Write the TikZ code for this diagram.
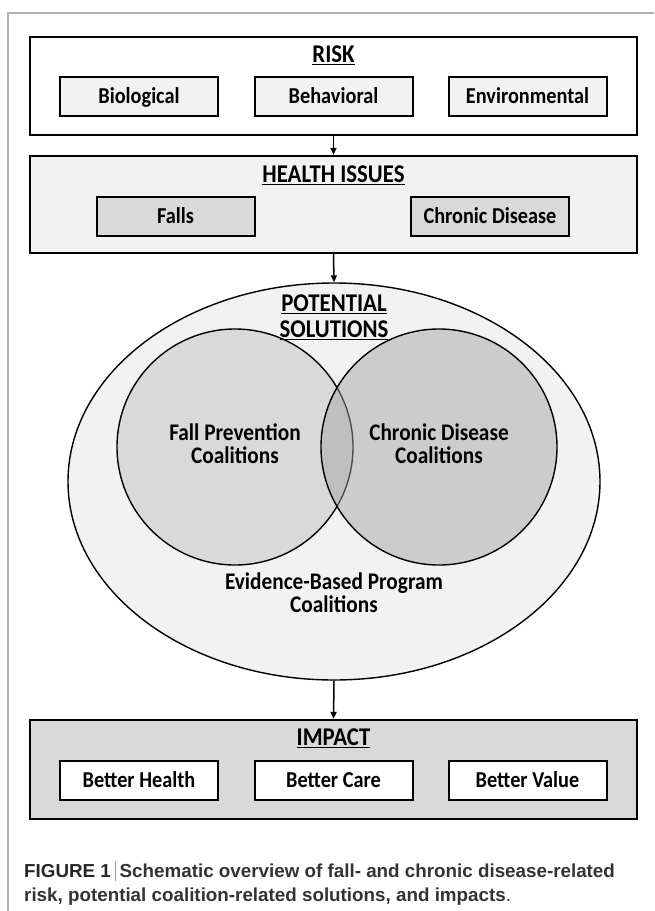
\documentclass[tikz,border=0pt]{standalone}
\usepackage{fontspec}
\usepackage{graphicx}
\setmainfont{Carlito}
\newfontfamily\capfont{Liberation Sans}
\usetikzlibrary{shapes.geometric,arrows.meta}
\definecolor{lightfill}{HTML}{F2F2F2}
\definecolor{midfill}{HTML}{D9D9D9}
\definecolor{circdark}{HTML}{A3A3A3}
\definecolor{framegray}{HTML}{B0B0B0}
\definecolor{captext}{HTML}{333333}
\newcommand{\vst}[1]{\scalebox{1}[1.12]{#1}}
\newcommand{\vstack}[1]{\scalebox{1}[1.12]{\begin{tabular}{@{}c@{}}#1\end{tabular}}}
\tikzset{
  outerbox/.style={draw=black,line width=2.3pt,inner sep=0pt},
  subbox/.style={draw=black,line width=2pt,minimum width=158pt,minimum height=39pt,inner sep=0pt,text height=15pt,text depth=0.4pt,font=\bfseries\fontsize{20.3}{22}\selectfont},
  titletext/.style={font=\bfseries\fontsize{22.8}{25}\selectfont,inner sep=0pt},
  circtext/.style={font=\bfseries\fontsize{21.3}{20.6}\selectfont,inner sep=0pt},
  flowarrow/.style={line width=1.5pt,-{Triangle[length=7pt,width=6pt]}},
  captxt/.style={font=\capfont\bfseries\fontsize{18.8}{24}\selectfont,text=captext,inner sep=0pt,anchor=base west}
}
\begin{document}
\begin{tikzpicture}[x=1pt,y=-1pt]
\useasboundingbox (0,0) rectangle (654,911);
% page frame
\draw[framegray,line width=1.2pt] (654,13) -- (8,13) -- (8,911);

% RISK
\node[outerbox,fill=white,minimum width=607pt,minimum height=98pt] (risk) at (333.5,86) {};
\node[titletext] (risktitle) at (333.5,55) {\vst{\underline{RISK}}};
\node[subbox,fill=lightfill] (bio) at (139,96.5) {\vst{Biological}};
\node[subbox,fill=lightfill] (beh) at (333.5,96.5) {\vst{Behavioral}};
\node[subbox,fill=lightfill] (env) at (527.5,96.5) {\vst{Environmental}};

% HEALTH ISSUES
\node[outerbox,fill=lightfill,minimum width=607pt,minimum height=97pt] (health) at (333.5,204.5) {};
\node[titletext] (healthtitle) at (333.5,175) {\vst{\underline{HEALTH ISSUES}}};
\node[subbox,fill=midfill] (falls) at (175.5,216.5) {\vst{Falls}};
\node[subbox,fill=midfill] (chronic) at (490,216.5) {\vst{Chronic Disease}};

% POTENTIAL SOLUTIONS
\node[ellipse,draw=black,line width=1.4pt,fill=lightfill,minimum width=532pt,minimum height=397pt,inner sep=0pt] (sol) at (334,481.5) {};
\node[circle,draw=black,line width=1.4pt,fill=midfill,minimum size=236pt,inner sep=0pt] (fpc) at (235,447) {};
\node[circle,draw=black,line width=1.4pt,fill=circdark,fill opacity=0.48,minimum size=236pt,inner sep=0pt] (cdc) at (439,447) {};
\node[titletext] (soltitle) at (334,319) {\vstack{\underline{POTENTIAL}\\[-2pt]\underline{SOLUTIONS}}};
\node[circtext] (fpctext) at (235,447) {\vstack{Fall Prevention\\Coalitions}};
\node[circtext] (cdctext) at (439,447) {\vstack{Chronic Disease\\Coalitions}};
\node[circtext] (ebp) at (334,596) {\vstack{Evidence-Based Program\\Coalitions}};

% IMPACT
\node[outerbox,fill=midfill,minimum width=607pt,minimum height=99pt] (impact) at (333.5,769.5) {};
\node[titletext] (impacttitle) at (333.5,738) {\vst{\underline{IMPACT}}};
\node[subbox,fill=white] (health2) at (139,780) {\vst{Better Health}};
\node[subbox,fill=white] (care) at (333.5,780) {\vst{Better Care}};
\node[subbox,fill=white] (value) at (527.5,780) {\vst{Better Value}};

% arrows
\draw[flowarrow] (risk.south) -- (health.north);
\draw[flowarrow] (health.south) -- (sol.north);
\draw[flowarrow] (sol.south) -- (impact.north);

% caption
\node[captxt] (cap1) at (24,877) {\textcolor{black!85}{FIGURE 1}\hspace{4pt}{\color{black!40}\rule[-3.5pt]{0.8pt}{20pt}}\hspace{4pt}Schematic overview of fall- and chronic disease-related};
\node[captxt] (cap2) at (24,901) {risk, potential coalition-related solutions, and impacts{\mdseries .}};
\end{tikzpicture}
\end{document}
